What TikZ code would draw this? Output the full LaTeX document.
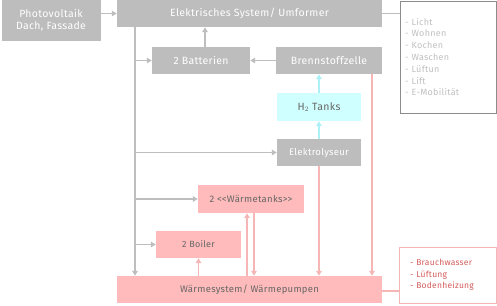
\documentclass[tikz,border=0pt]{standalone}
\usepackage{fontspec}
\setmainfont{Fira Sans}[LetterSpace=3]
\usetikzlibrary{arrows.meta, positioning}
\definecolor{hausgray}{RGB}{189,189,189}
\definecolor{hauspink}{RGB}{255,187,187}
\definecolor{hauscyan}{RGB}{208,255,255}
\definecolor{grayline}{RGB}{190,190,190}
\definecolor{pinkline}{RGB}{246,182,182}
\definecolor{cyanline}{RGB}{172,240,248}
\definecolor{pinktext}{RGB}{212,92,92}

\begin{document}
\begin{tikzpicture}[x=1pt, y=-1pt, >={Triangle[length=5pt, width=5.5pt]},
      gbox/.style={fill=hausgray, text=white, inner sep=0pt, align=center,
                   font=\fontsize{10.5}{12.5}\selectfont, minimum height=27pt},
      pbox/.style={fill=hauspink, text=black!60, inner sep=0pt, align=center,
                   font=\fontsize{9.5}{11}\selectfont, minimum height=27pt},
      cbox/.style={fill=hauscyan, text=black!60, inner sep=0pt, align=center,
                   font=\fontsize{10.5}{12}\selectfont, minimum height=28pt},
      garr/.style={->, line width=1.2pt, grayline},
      parr/.style={->, line width=1.2pt, pinkline},
      carr/.style={->, line width=1.2pt, cyanline}]
    \useasboundingbox (0,0) rectangle (497,305);
    \node[gbox, minimum width=99pt, minimum height=41pt] (pv) at (51,20.5) {Photovoltaik\\Dach, Fassade};
    \node[gbox, minimum width=265pt] (elek) at (249.5,13.5) {Elektrisches System/ Umformer};
    \node[gbox, minimum width=98pt] (batt) at (201,60.5) {2 Batterien};
    \node[gbox, minimum width=106pt] (brenn) at (329,60.5) {Brennstoffzelle};
    \node[cbox, minimum width=84pt] (tanks) at (319,107) {H$_2$ Tanks};
    \node[gbox, minimum width=84pt, font=\fontsize{9.5}{11}\selectfont] (elyse) at (319,152.5) {Elektrolyseur};
    \node[pbox, minimum width=106pt, minimum height=28pt] (wtanks) at (251,199) {2 <\kern0pt<Wärmetanks>\kern0pt>};
    \node[pbox, minimum width=85pt, font=\fontsize{9}{11}\selectfont] (boiler) at (198.5,244.5) {2 Boiler};
    \node[pbox, minimum width=265pt] (waerme) at (249.5,289.5) {Wärmesystem/ Wärmepumpen};
    \node[draw=black!45, line width=0.8pt, minimum width=96pt, minimum height=112pt,
          inner xsep=5pt, text width=86pt, align=left, text=black!25,
          font=\fontsize{9}{11.8}\selectfont] (nutzung) at (448,57)
          {- Licht\\- Wohnen\\- Kochen\\- Waschen\\- Lüftun\\- Lift\\- E-Mobilität};
    \node[draw=pinkline, line width=0.8pt, minimum width=97pt, minimum height=56pt,
          inner xsep=11pt, text width=75pt, align=left, text=pinktext,
          font=\fontsize{8.5}{11.5}\selectfont] (waermenutz) at (447.5,275)
          {- Brauchwasser\\- Lüftung\\- Bodenheizung};
    \coordinate (bus) at (135,0);
    \coordinate (fc) at (372,0);
    % arrows
    \draw[garr] (pv.east |- elek) -- (elek.west);
    \draw[line width=1.2pt, grayline] (elek.east) -- (elek.east -| nutzung.west);
    \draw[garr] (bus |- elek.south) -- (bus |- waerme.north);
    \draw[garr] (bus |- batt) -- (batt.west);
    \draw[garr] (bus |- elyse) -- (elyse.west);
    \draw[garr] (bus |- wtanks) -- (wtanks.west);
    \draw[garr] (bus |- boiler) -- (boiler.west);
    \draw[garr] (batt.north -| 205,0) -- (elek.south -| 205,0);
    \draw[garr] (brenn.west) -- (batt.east);
    \draw[carr] (tanks.north) -- (brenn.south -| tanks);
    \draw[carr] (elyse.north) -- (tanks.south);
    \draw[parr] (fc |- brenn.south) -- (fc |- waerme.north);
    \draw[parr] (elyse.south) -- (waerme.north -| elyse);
    \draw[parr] (waerme.north -| 247,0) -- (wtanks.south -| 247,0);
    \draw[parr] (wtanks.south -| 254,0) -- (waerme.north -| 254,0);
    \draw[parr] (waerme.north -| boiler) -- (boiler.south);
    \draw[line width=1.2pt, pinkline] (waerme.east |- 0,291) -- (waermenutz.west |- 0,291);
  \end{tikzpicture}
\end{document}
